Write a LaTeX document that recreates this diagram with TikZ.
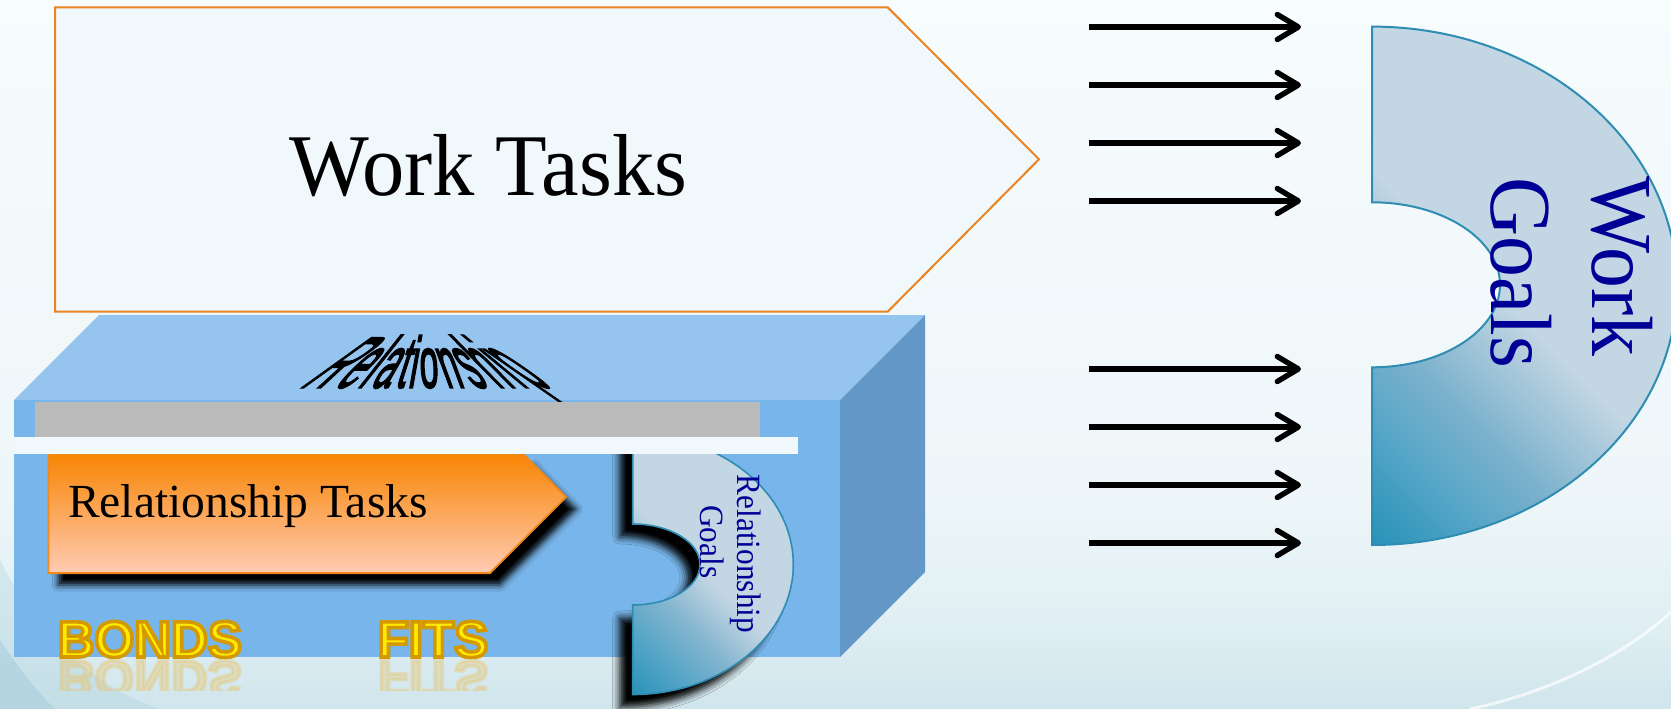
\documentclass[tikz,border=0pt]{standalone}
\usepackage{fontspec}
\setmainfont{Liberation Serif}
\newfontfamily\serifcond[FakeStretch=0.92]{Liberation Serif}
\newfontfamily\serifwide[FakeStretch=0.96]{Liberation Serif}
\newfontfamily\serifcondb[FakeStretch=0.94]{Liberation Serif}
\newfontfamily\sansfam{Liberation Sans}
\newfontfamily\warpfam[FakeBold=3]{Liberation Sans}
\newfontfamily\goldfont[FakeBold=7]{Liberation Sans Bold}
\usetikzlibrary{arrows.meta,shadows.blur,calc}

% palette
\definecolor{bgtop}{HTML}{F7FCFD}
\definecolor{bgmid}{HTML}{EEF6F9}
\definecolor{bglow}{HTML}{E0EFF3}
\definecolor{bgbot}{HTML}{CFE5EC}
\definecolor{swoosh}{HTML}{A9CFDB}
\definecolor{taskfill}{HTML}{F0F8FB}
\definecolor{taskline}{HTML}{EA8420}
\definecolor{boxtop}{HTML}{95C4EF}
\definecolor{boxfront}{HTML}{78B5EA}
\definecolor{boxside}{HTML}{6397C7}
\definecolor{bargray}{HTML}{BABABA}
\definecolor{barlight}{HTML}{F0F8FB}
\definecolor{reltop}{HTML}{F88504}
\definecolor{relbot}{HTML}{FFCBB3}
\definecolor{relline}{HTML}{F08A1E}
\definecolor{gdark}{HTML}{2A93B9}
\definecolor{gmida}{HTML}{55A5C7}
\definecolor{gmidb}{HTML}{7DB2CD}
\definecolor{glight}{HTML}{C3D6E3}
\definecolor{goalline}{HTML}{2F8DB3}
\definecolor{goalink}{RGB}{0,0,150}
\definecolor{goldfill}{HTML}{FFEA00}
\definecolor{goldshade}{HTML}{E9C46A}

% gold outline colour for the stroked letters (0.83 0.60 0.00)
\newcommand\goldstroke{\special{pdf:code 0.83 0.60 0 RG}}

\pgfdeclareverticalshading{bgshade}{100bp}{color(0bp)=(bgbot); color(25bp)=(bgbot); color(31bp)=(bglow); color(40bp)=(bgmid); color(75bp)=(bgtop); color(100bp)=(bgtop)}
\pgfdeclarehorizontalshading{goalshade}{100bp}{color(0bp)=(gdark); color(15bp)=(gdark); color(25bp)=(gmida); color(34bp)=(gmidb); color(47bp)=(glight); color(100bp)=(glight)}

% lengths for the perspective word on the box lid
\newlength\warpw
\newlength\warpcum
\newlength\warptot
\newcommand\warpfont{\warpfam\fontsize{72}{72}\selectfont}

\begin{document}
% letter positions and slants of the perspective word
\settowidth{\warptot}{\warpfont Relationship}%
\global\warpcum=0pt%
\gdef\warplist{}%
\foreach \ch in {R,e,l,a,t,i,o,n,s,h,i,p}{%
  \settowidth{\warpw}{\warpfont\ch}%
  \pgfmathsetmacro\uc{(\warpcum+0.5*\warpw)/\warptot}%
  \pgfmathsetmacro\kk{(0.5-\uc)*3.2}%
  \pgfmathsetmacro\sx{185/\warptot}%
  \pgfmathsetmacro\xo{426+(\uc-0.5)*185-\sx*0.5*\warpw-\kk*25}%
  \xdef\warplist{\warplist\ifx\warplist\empty\else,\fi\ch/\xo/\kk}%
  \global\advance\warpcum by \warpw
}%
\pgfmathsetmacro\warpsx{185/\warptot}%
\begin{tikzpicture}[x=1pt,y=-1pt,
  flow/.style={line width=5.4pt, -{Straight Barb[length=21pt,width=25pt,round]}},
  bigtext/.style={font=\serifwide\fontsize{88}{96}\selectfont, inner sep=0pt},
  goaltext/.style={font=\serifcondb\fontsize{87}{96}\selectfont, text=goalink, inner sep=0pt, rotate=-90, anchor=base},
  smallgoal/.style={font=\serifcond\fontsize{34}{38}\selectfont, text=goalink, inner sep=0pt, rotate=-90, anchor=base},
  goldword/.style={font=\goldfont\fontsize{51}{51}\selectfont, inner sep=0pt, anchor=base west},
]
\useasboundingbox (0,0) rectangle (1671,709);

% background
\shade[shading=bgshade] (0,0) rectangle (1671,709);
\fill[swoosh, opacity=0.3] (0,560) .. controls (40,640) and (100,690) .. (160,709) -- (0,709) -- cycle;
\fill[swoosh, opacity=0.6] (0,640) .. controls (20,670) and (40,695) .. (55,709) -- (0,709) -- cycle;
\draw[white, opacity=0.7, line width=3pt] (1470,709) .. controls (1560,690) and (1630,650) .. (1671,612);

% work tasks arrow block
\draw[fill=taskfill, draw=taskline, line width=2pt, line join=miter]
  (55,7.3) -- (887.7,7.3) -- (1039,159.3) -- (887.7,311.7) -- (55,311.7) -- cycle;
\node[bigtext, anchor=base west] (worktasks) at (289,195) {Work Tasks};

% the box
\fill[boxtop] (14,400) -- (99,315) -- (925,315) -- (840,400) -- cycle;
\fill[boxside] (840,400) -- (925,315) -- (925,572) -- (840,657) -- cycle;
\fill[boxfront] (14,400) rectangle (840,657);

% perspective word on the lid, one slanted letter at a time
\foreach \ch/\xo/\kk [count=\i] in \warplist{
  \begin{scope}[shift={(\xo,387.5)}, xslant=\kk, xscale=\warpsx]
    \node[transform shape, anchor=base west, inner sep=0pt, outer sep=0pt] (w\i) at (0,0) {\warpfont\ch};
  \end{scope}
}

% relationship tasks arrow block
\path[blur shadow={shadow xshift=10pt, shadow yshift=-12pt, shadow blur radius=6pt, shadow opacity=100},
      top color=reltop, bottom color=relbot, draw=relline, line width=2pt]
  (48.3,454) -- (523.3,454) -- (566,497) -- (490,573) -- (48.3,573) -- cycle;
\node[font=\fontsize{47.5}{50}\selectfont, anchor=base west, inner sep=0pt] (reltasks) at (68,517.3) {Relationship Tasks};

% relationship goals block arc
\path[blur shadow={shadow xshift=-13pt, shadow yshift=-13pt, shadow blur radius=7pt, shadow opacity=100},
      shade, shading=goalshade, shading angle=45, draw=goalline, line width=1.6pt]
  (632.7,434.5) arc[start angle=90, end angle=-90, x radius=160.6pt, y radius=130pt]
  -- (632.7,605) arc[start angle=-90, end angle=90, x radius=67.3pt, y radius=40.5pt] -- cycle;
\node[smallgoal] (relgoal1) at (737,554) {Relationship};
\node[smallgoal] (relgoal2) at (700.5,541.7) {Goals};

% lid bars
\fill[bargray] (35,401.7) rectangle (760,437.3);
\fill[barlight] (14,437.3) rectangle (798.3,454.3);

% golden words, stroked in gold, with a faint reflection
\node[goldword, text=goldfill] (bonds) at (57.5,657) {\goldstroke BONDS};
\node[goldword, text=goldfill] (fits) at (377.5,657) {\goldstroke FITS};
\begin{scope}
  \clip (0,659) rectangle (700,690);
  \begin{scope}[shift={(57.5,661)}, yscale=-1]
    \node[goldword, text=goldshade, opacity=0.35, transform shape] (bondsr) at (0,0) {BONDS};
  \end{scope}
  \begin{scope}[shift={(377.5,661)}, yscale=-1]
    \node[goldword, text=goldshade, opacity=0.35, transform shape] (fitsr) at (0,0) {FITS};
  \end{scope}
\end{scope}

% arrows toward the work goals
\foreach \yy [count=\k] in {27,85,143,201,369,427,485,543}{
  \coordinate (s\k) at (1089,\yy);
  \coordinate (e\k) at (1301,\yy);
  \draw[flow] (s\k) -- (e\k);
}

% work goals block arc
\path[shade, shading=goalshade, shading angle=45, draw=goalline, line width=2pt]
  (1372,26.6) arc[start angle=90, end angle=-90, x radius=305pt, y radius=259.2pt]
  -- (1372,367.3) arc[start angle=-90, end angle=90, x radius=128pt, y radius=82.5pt] -- cycle;
\node[goaltext] (work) at (1592,266.5) {Work};
\node[goaltext] (goals) at (1491,272.5) {Goals};
\end{tikzpicture}
\end{document}
